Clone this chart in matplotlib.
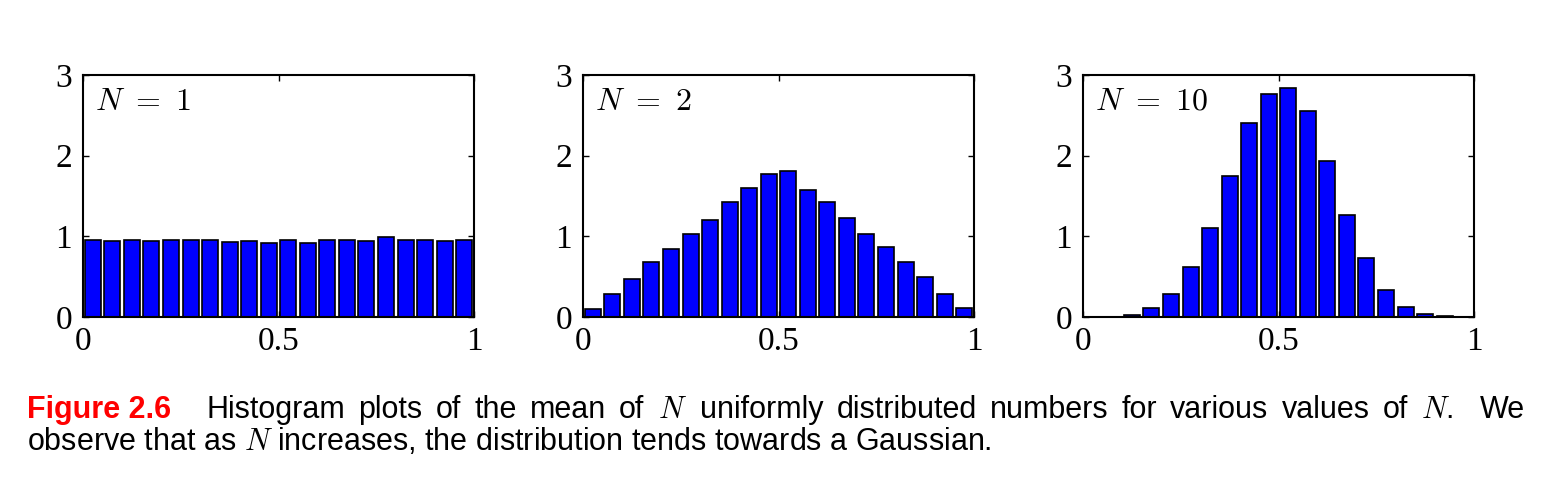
import numpy as np
import matplotlib
matplotlib.use("Agg")
import matplotlib.pyplot as plt

# bar heights (20 bins on [0, 1])
bin_centers = np.arange(20) * 0.05 + 0.025
n1_heights = [0.95, 0.94, 0.96, 0.94, 0.95, 0.95, 0.95, 0.93, 0.94, 0.92,
              0.96, 0.92, 0.96, 0.95, 0.94, 0.99, 0.96, 0.95, 0.94, 0.95]
n2_heights = [0.10, 0.29, 0.47, 0.68, 0.84, 1.03, 1.20, 1.43, 1.60, 1.77,
              1.81, 1.58, 1.42, 1.23, 1.03, 0.87, 0.68, 0.50, 0.29, 0.11]
n10_heights = [0.0, 0.0, 0.03, 0.11, 0.28, 0.62, 1.10, 1.75, 2.40, 2.76,
               2.84, 2.55, 1.94, 1.26, 0.73, 0.34, 0.13, 0.04, 0.008, 0.0]
panel_labels = [r"$N\ =\ 1$", r"$N\ =\ 2$", r"$N\ =\ 10$"]
panel_data = [n1_heights, n2_heights, n10_heights]

plt.rcParams["mathtext.fontset"] = "cm"

W, H = 1544, 478
fig = plt.figure(figsize=(W / 100, H / 100), dpi=100)

lefts = [83, 583, 1083]
for left, heights, label in zip(lefts, panel_data, panel_labels):
    ax = fig.add_axes([left / W, (H - 317) / H, 391 / W, 242 / H])
    ax.bar(bin_centers, heights, width=0.041, color="#0000ff",
           edgecolor="black", linewidth=1.2)
    ax.set_xlim(0, 1)
    ax.set_ylim(0, 3)
    ax.set_xticks([0, 0.5, 1])
    ax.set_xticklabels(["0", "0.5", "1"])
    ax.set_yticks([0, 1, 2, 3])
    ax.tick_params(direction="in", top=True, right=True, length=4, width=1,
                   labelsize=24)
    ax.tick_params(axis="x", pad=7)
    ax.tick_params(axis="y", pad=8)
    for t in ax.get_xticklabels() + ax.get_yticklabels():
        t.set_fontfamily("Liberation Serif")
    for s in ax.spines.values():
        s.set_linewidth(1.5)
    ax.text(0.03, 0.955, label, transform=ax.transAxes, fontsize=23,
            va="top", ha="left")

# caption, first line justified between x0 and x1
fig.canvas.draw()
renderer = fig.canvas.get_renderer()
cap_size = 22
x0, x1 = 27, 1525
y1 = H - 418
y2 = H - 450

words = [("Figure 2.6", dict(color="#ff0000", fontweight="bold"))]
for w in ["Histogram", "plots", "of", "the", "mean", "of", "$N$", "uniformly",
          "distributed", "numbers", "for", "various", "values", "of", "$N$.", "We"]:
    words.append((w, dict(color="black")))

texts = []
for w, props in words:
    t = fig.text(0, y1 / H, w, fontsize=cap_size, family="Liberation Sans",
                 va="baseline", ha="left", **props)
    texts.append(t)
widths = [t.get_window_extent(renderer).width for t in texts]
# extra space after "Figure 2.6" and after the sentence end
gap_weights = [1.0] * (len(words) - 1)
gap_weights[0] = 2.7
gap_weights[-1] = 2.0
free = (x1 - x0) - sum(widths)
unit = free / sum(gap_weights)
x = x0
for i, t in enumerate(texts):
    t.set_x(x / W)
    x += widths[i]
    if i < len(gap_weights):
        x += unit * gap_weights[i]

fig.text(x0 / W, y2 / H,
         "observe that as $N$ increases, the distribution tends towards a Gaussian.",
         fontsize=cap_size, family="Liberation Sans", va="baseline", ha="left")

fig.savefig("out.png", dpi=100)
